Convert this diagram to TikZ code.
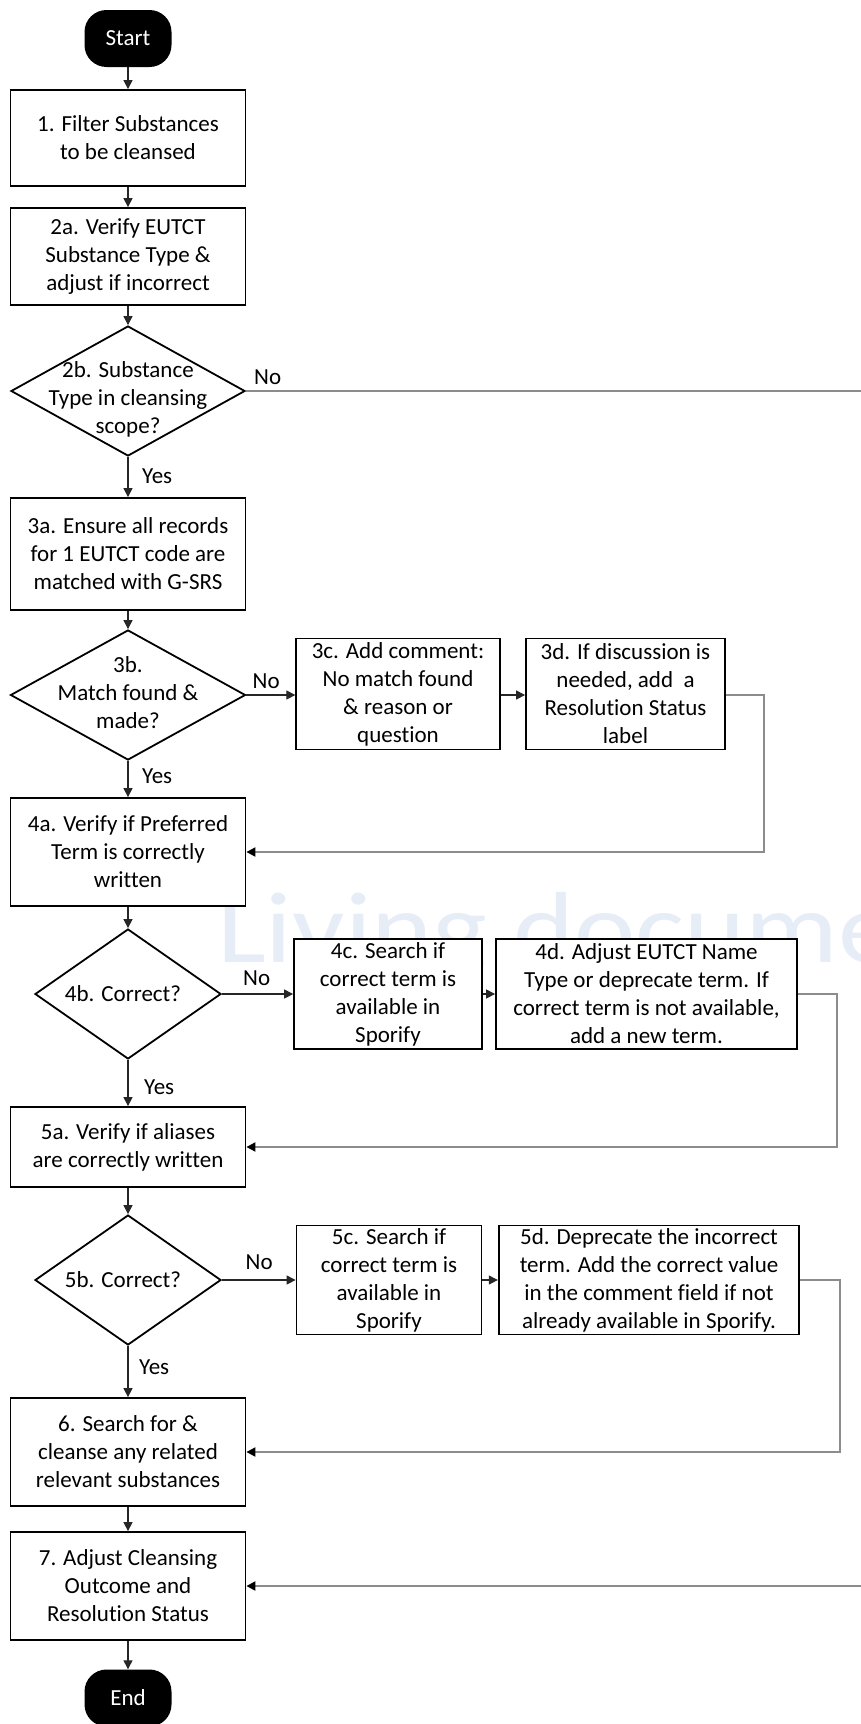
\documentclass[tikz,border=0pt]{standalone}
\usepackage{fontspec}
\setmainfont{Carlito}[Ligatures=NoCommon]
\usepackage{graphicx}
\usetikzlibrary{shapes.geometric,arrows.meta}
\definecolor{wmark}{HTML}{E7EDF7}
\definecolor{fbgray}{HTML}{8C8C8C}
\definecolor{flowc}{HTML}{262626}
\begin{document}
\begin{tikzpicture}[x=1pt,y=-1pt,
  txtfont/.style={font=\fontsize{23}{28}\selectfont},
  procbox/.style={draw=black, line width=1.8pt, fill=white, align=center, inner sep=0pt, txtfont},
  decis/.style={diamond, draw=black, line width=1.8pt, fill=white, inner sep=0pt},
  dtext/.style={align=center, inner sep=0pt, txtfont},
  term/.style={fill=black, text=white, rounded corners=22pt, minimum width=87pt, minimum height=57pt, inner sep=0pt, txtfont},
  flow/.style={draw=flowc, line width=1.2pt, -{Triangle[length=9pt,width=9pt]}},
  fb/.style={draw=fbgray, line width=2pt, -{Triangle[length=9pt,width=9pt,color=black]}},
  lbl/.style={anchor=west, inner sep=0pt, txtfont}
]
\useasboundingbox (0,0) rectangle (861,1724);
\clip (0,0) rectangle (861,1724);
\fill[white] (0,0) rectangle (861,1724);

% watermark
\node[anchor=base west, inner sep=0pt, text=wmark, font=\fontsize{101}{101}\selectfont] (wm) at (217,962) {\scalebox{1.15}[1]{Living document}};

% main column
\node[term] (start) at (128,38.5) {Start};
\node[procbox, minimum width=235pt, minimum height=96pt] (b1) at (128,138) {1. Filter Substances\\to be cleansed};
\node[procbox, minimum width=235pt, minimum height=97pt] (b2a) at (128,256.5) {2a. Verify EUTCT\\Substance Type \&\\adjust if incorrect};
\node[decis, minimum width=234pt, minimum height=130pt] (d2b) at (128,391) {};
\node[dtext] (t2b) at (128,399) {2b. Substance\\Type in cleansing\\scope?};
\node[procbox, minimum width=235pt, minimum height=112pt] (b3a) at (128,554) {3a. Ensure all records\\for 1 EUTCT code are\\matched with G-SRS};
\node[decis, minimum width=235pt, minimum height=130pt] (d3b) at (128,695) {};
\node[dtext] (t3b) at (128,693) {3b.\\Match found \&\\made?};
\node[procbox, minimum width=203.5pt, minimum height=111pt] (b3c) at (398,694) {3c. Add comment:\\No match found\\\& reason or\\question};
\node[procbox, minimum width=199pt, minimum height=111pt] (b3d) at (625.5,694) {3d. If discussion is\\needed, add\ \ a\\Resolution Status\\label};
\node[procbox, minimum width=235pt, minimum height=108pt] (b4a) at (128,852) {4a. Verify if Preferred\\Term is correctly\\written};
\node[decis, minimum width=186pt, minimum height=130pt] (d4b) at (128,994) {};
\node[dtext] (t4b) at (123,994) {4b. Correct?};
\node[procbox, minimum width=188pt, minimum height=110pt] (b4c) at (388,994) {4c. Search if\\correct term is\\available in\\Sporify};
\node[procbox, minimum width=301pt, minimum height=110pt] (b4d) at (646.5,994) {4d. Adjust EUTCT Name\\Type or deprecate term. If\\correct term is not available,\\add a new term.};
\node[procbox, minimum width=235pt, minimum height=80pt] (b5a) at (128,1147) {5a. Verify if aliases\\are correctly written};
\node[decis, minimum width=186pt, minimum height=130pt] (d5b) at (128,1280) {};
\node[dtext] (t5b) at (123,1280) {5b. Correct?};
\node[procbox, minimum width=185pt, minimum height=109pt] (b5c) at (389,1280) {5c. Search if\\correct term is\\available in\\Sporify};
\node[procbox, minimum width=300.5pt, minimum height=109pt] (b5d) at (649,1280) {5d. Deprecate the incorrect\\term. Add the correct value\\in the comment field if not\\already available in Sporify.};
\node[procbox, minimum width=235pt, minimum height=108pt] (b6) at (128,1452) {6. Search for \&\\cleanse any related\\relevant substances};
\node[procbox, minimum width=235pt, minimum height=108pt] (b7) at (128,1586) {7. Adjust Cleansing\\Outcome and\\Resolution Status};
\node[term] (end) at (128,1698) {End};

% main flow
\draw[flow] (start) -- (b1);
\draw[flow] (b1) -- (b2a);
\draw[flow] (b2a) -- (d2b);
\draw[flow] (d2b) -- (b3a);
\draw[flow] (b3a) -- (d3b);
\draw[flow] (d3b) -- (b4a);
\draw[flow] (b4a) -- (d4b);
\draw[flow] (d4b) -- (b5a);
\draw[flow] (b5a) -- (d5b);
\draw[flow] (d5b) -- (b6);
\draw[flow] (b6) -- (b7);
\draw[flow] (b7) -- (end);

% side flows
\draw[flow] (d3b.east) -- (b3c.west |- d3b.east);
\draw[flow] (b3c.east |- d3b.east) -- (b3d.west |- d3b.east);
\draw[flow] (d4b.east) -- (b4c.west |- d4b.east);
\draw[flow] (b4c) -- (b4d);
\draw[flow] (d5b.east) -- (b5c.west |- d5b.east);
\draw[flow] (b5c.east |- d5b.east) -- (b5d.west |- d5b.east);

% feedback lines
\draw[fb] (b3d.east |- d3b.east) -- ++(38,0) |- (b4a.east);
\draw[fb] (b4d.east) -- ++(39,0) |- (b5a.east);
\draw[fb] (b5d.east) -- ++(40,0) |- (b6.east);
\coordinate (offR) at (880,391);
\draw[fb] (d2b.east) -- (offR) |- (b7.east);

% labels
\node[lbl] (no2b) at (254,377) {No};
\node[lbl] (yes2b) at (142,476) {Yes};
\node[lbl] (no3b) at (252.5,681) {No};
\node[lbl] (yes3b) at (142,776) {Yes};
\node[lbl] (no4b) at (243,978) {No};
\node[lbl] (yes4b) at (144,1087) {Yes};
\node[lbl] (no5b) at (245.5,1262) {No};
\node[lbl] (yes5b) at (139,1367) {Yes};
\end{tikzpicture}
\end{document}
